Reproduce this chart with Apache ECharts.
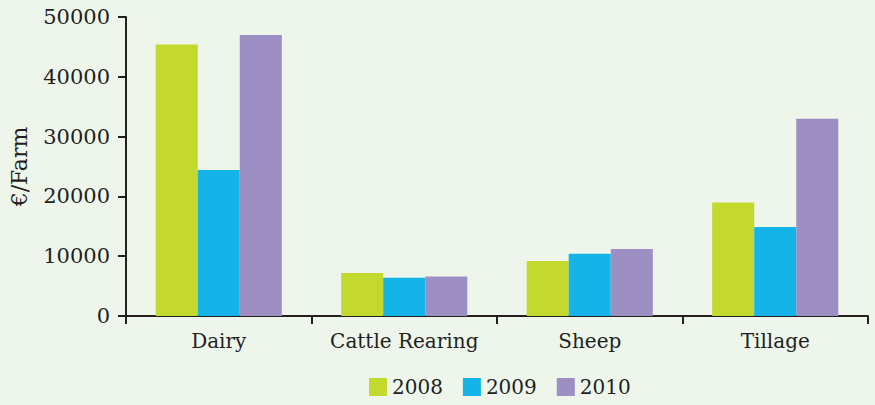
<!DOCTYPE html>
<html>
<head>
<meta charset="utf-8">
<style>
  html, body { margin: 0; padding: 0; background: #eef6ec; }
  #chart { width: 875px; height: 405px; }
</style>
<script src="https://cdn.jsdelivr.net/npm/echarts@6/dist/echarts.min.js"></script>
</head>
<body>
<div id="chart"></div>
<script>
var categories = ['Dairy', 'Cattle Rearing', 'Sheep', 'Tillage'];
var years = ['2008', '2009', '2010'];
var values2008 = [45400, 7200, 9200, 19000];
var values2009 = [24400, 6400, 10400, 14900];
var values2010 = [47000, 6600, 11200, 33000];
var yTicks = [0, 10000, 20000, 30000, 40000, 50000];

var colors = ['#c3d92e', '#14b4e8', '#9d8ec3'];
var ink = '#231f20';
var font = '"DejaVu Serif", serif';

var chart = echarts.init(document.getElementById('chart'), null, { renderer: 'svg' });

function bar(name, data, color) {
  return {
    name: name,
    type: 'bar',
    data: data,
    barGap: '0%',
    barCategoryGap: '32%',
    itemStyle: { color: color }
  };
}

chart.setOption({
  animation: false,
  backgroundColor: '#eef6ec',
  textStyle: { fontFamily: font, color: ink },
  grid: { left: 124, right: 7, top: 17, bottom: 89, containLabel: false },
  legend: {
    bottom: 3,
    left: 364,
    itemWidth: 18,
    itemHeight: 18,
    itemGap: 20,
    icon: 'rect',
    textStyle: { fontFamily: font, fontSize: 20, color: ink },
    data: years
  },
  xAxis: {
    type: 'category',
    data: categories,
    axisLine: { lineStyle: { color: ink, width: 2 } },
    axisTick: { show: true, interval: 0, length: 8, lineStyle: { color: ink, width: 2 } },
    axisLabel: { interval: 0, fontSize: 20, color: ink, margin: 15, fontFamily: font, hideOverlap: false }
  },
  yAxis: {
    type: 'value',
    min: yTicks[0],
    max: yTicks[yTicks.length - 1],
    interval: 10000,
    name: '€/Farm',
    nameLocation: 'middle',
    nameGap: 96,
    nameRotate: 90,
    nameTextStyle: { fontSize: 22, color: ink, fontFamily: font },
    axisLine: { show: true, lineStyle: { color: ink, width: 2 } },
    axisTick: { show: true, length: 8, lineStyle: { color: ink, width: 2 } },
    axisLabel: {
      fontSize: 21, color: ink, margin: 16, fontFamily: font,
      formatter: function(v) { return String(v); }
    },
    splitLine: { show: false }
  },
  series: [
    bar(years[0], values2008, colors[0]),
    bar(years[1], values2009, colors[1]),
    bar(years[2], values2010, colors[2])
  ]
});
window.addEventListener('resize', function() { chart.resize(); });
</script>
</body>
</html>
